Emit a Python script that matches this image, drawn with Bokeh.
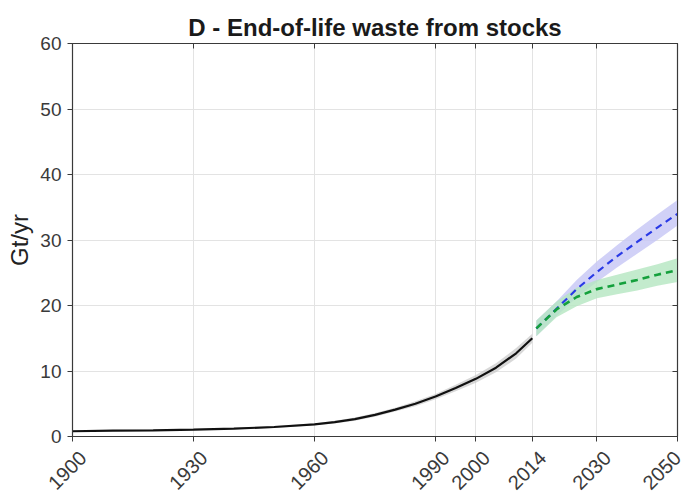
from bokeh.plotting import figure
from bokeh.models import LinearAxis, FixedTicker, Range1d
from bokeh.embed import file_html
from bokeh.resources import INLINE
import math

# Historical end-of-life waste (Gt/yr)
hist_years = [1900, 1910, 1920, 1930, 1940, 1950, 1960, 1965, 1970, 1975, 1980, 1985, 1990, 1995, 2000, 2005, 2010, 2014]
hist_vals = [0.8, 0.9, 0.95, 1.05, 1.2, 1.45, 1.85, 2.2, 2.65, 3.3, 4.1, 5.0, 6.1, 7.4, 8.8, 10.5, 12.7, 15.0]
hist_low = [0.7, 0.8, 0.85, 0.95, 1.1, 1.3, 1.7, 2.0, 2.4, 3.0, 3.8, 4.6, 5.7, 6.9, 8.2, 9.8, 11.9, 14.3]
hist_high = [0.9, 1.0, 1.05, 1.15, 1.3, 1.6, 2.0, 2.4, 2.9, 3.6, 4.4, 5.4, 6.5, 7.9, 9.4, 11.2, 13.5, 15.7]

# Projections
proj_years = [2015, 2020, 2025, 2030, 2035, 2040, 2045, 2050]
blue_vals = [16.5, 19.5, 22.5, 25.1, 27.5, 29.7, 31.9, 34.0]
blue_low = [15.3, 18.4, 21.2, 23.6, 25.8, 27.9, 30.0, 32.2]
blue_high = [17.7, 20.6, 23.9, 26.7, 29.2, 31.6, 33.9, 36.1]
green_vals = [16.5, 19.4, 21.3, 22.5, 23.2, 23.9, 24.7, 25.4]
green_low = [15.3, 18.2, 19.9, 21.1, 21.7, 22.3, 23.0, 23.6]
green_high = [17.7, 20.6, 22.7, 23.9, 24.7, 25.5, 26.3, 27.2]

x_ticks = [1900, 1930, 1960, 1990, 2000, 2014, 2030, 2050]
x_tick_labels = ["1900", "1930", "1960", "1990", "2000", "2014", "2030", "2050"]
y_ticks = [0, 10, 20, 30, 40, 50, 60]

FONT = "Liberation Sans"
AX = "#3a3a3a"
X0, X1 = 1900, 2050
NUDGE = 2.6  # label nudge (years) so rotated labels sit like the original's

p = figure(width=684, height=499, output_backend="svg", toolbar_location=None,
           x_range=Range1d(X0, X1), y_range=Range1d(0, 60),
           min_border_left=72, min_border_right=7, min_border_top=43, min_border_bottom=63)

# label-only axis on a shifted copy of the x range
lab_range = Range1d(X0 - NUDGE, X1 - NUDGE)
p.extra_x_ranges = {"lab": lab_range}
lab_ticks = [min(t, X1 - NUDGE) for t in x_ticks]
lab_overrides = {lt: s for lt, s in zip(lab_ticks, x_tick_labels)}

p.title.text = "D - End-of-life waste from stocks"
p.title.align = "center"
p.title.text_font = FONT
p.title.text_font_size = "24px"
p.title.text_font_style = "bold"
p.title.text_color = "#1a1a1a"
p.title.standoff = 6

p.outline_line_color = AX
p.outline_line_width = 1.2

for ax in [p.xaxis[0], p.yaxis[0]]:
    ax.axis_line_color = AX
    ax.major_tick_line_color = AX
    ax.major_tick_in = 0
    ax.major_tick_out = 5
    ax.minor_tick_line_color = None
    ax.major_label_text_font = FONT
    ax.major_label_text_font_size = "19px"
    ax.major_label_text_color = AX

p.xaxis[0].ticker = FixedTicker(ticks=x_ticks)
p.xaxis[0].major_label_overrides = {t: "" for t in x_ticks}
p.xaxis[0].major_label_standoff = 0
p.yaxis[0].ticker = FixedTicker(ticks=y_ticks)
p.yaxis[0].major_label_standoff = 6
p.yaxis[0].axis_label = "Gt/yr"
p.yaxis[0].axis_label_text_font = FONT
p.yaxis[0].axis_label_text_font_size = "24px"
p.yaxis[0].axis_label_text_font_style = "normal"
p.yaxis[0].axis_label_text_color = "#222222"
p.yaxis[0].axis_label_standoff = 4

xlab = LinearAxis(x_range_name="lab", ticker=FixedTicker(ticks=lab_ticks),
                  major_label_overrides=lab_overrides,
                  axis_line_color=None, major_tick_line_color=None, minor_tick_line_color=None,
                  major_label_orientation=math.pi / 4, major_label_standoff=7,
                  major_label_text_font=FONT, major_label_text_font_size="20px",
                  major_label_text_color=AX)
p.add_layout(xlab, "below")

top = LinearAxis(ticker=FixedTicker(ticks=x_ticks), major_label_overrides={t: "" for t in x_ticks})
right = LinearAxis(ticker=FixedTicker(ticks=y_ticks), major_label_overrides={t: "" for t in y_ticks})
for ax in [top, right]:
    ax.axis_line_color = AX
    ax.major_tick_line_color = AX
    ax.major_tick_in = 5
    ax.major_tick_out = 0
    ax.minor_tick_line_color = None
    ax.major_label_standoff = 0
p.add_layout(top, "above")
p.add_layout(right, "right")

p.xgrid.ticker = FixedTicker(ticks=x_ticks)
p.ygrid.ticker = FixedTicker(ticks=y_ticks)
p.grid.grid_line_color = "#e3e3e3"

# bands
p.varea(x=hist_years, y1=hist_low, y2=hist_high, fill_color="#c8c8c8", fill_alpha=0.7)
p.varea(x=proj_years, y1=blue_low, y2=blue_high, fill_color="#c6c6f5", fill_alpha=0.8)
p.varea(x=proj_years, y1=green_low, y2=green_high, fill_color="#b4e6c0", fill_alpha=0.8)

p.line(hist_years, hist_vals, line_color="#111111", line_width=2.2)
p.line(proj_years, blue_vals, line_color="#2a3ae6", line_width=2.2, line_dash="7 5")
p.line(proj_years, green_vals, line_color="#14a03c", line_width=2.6, line_dash="7 5")

open("out.html", "w").write(file_html(p, INLINE))
